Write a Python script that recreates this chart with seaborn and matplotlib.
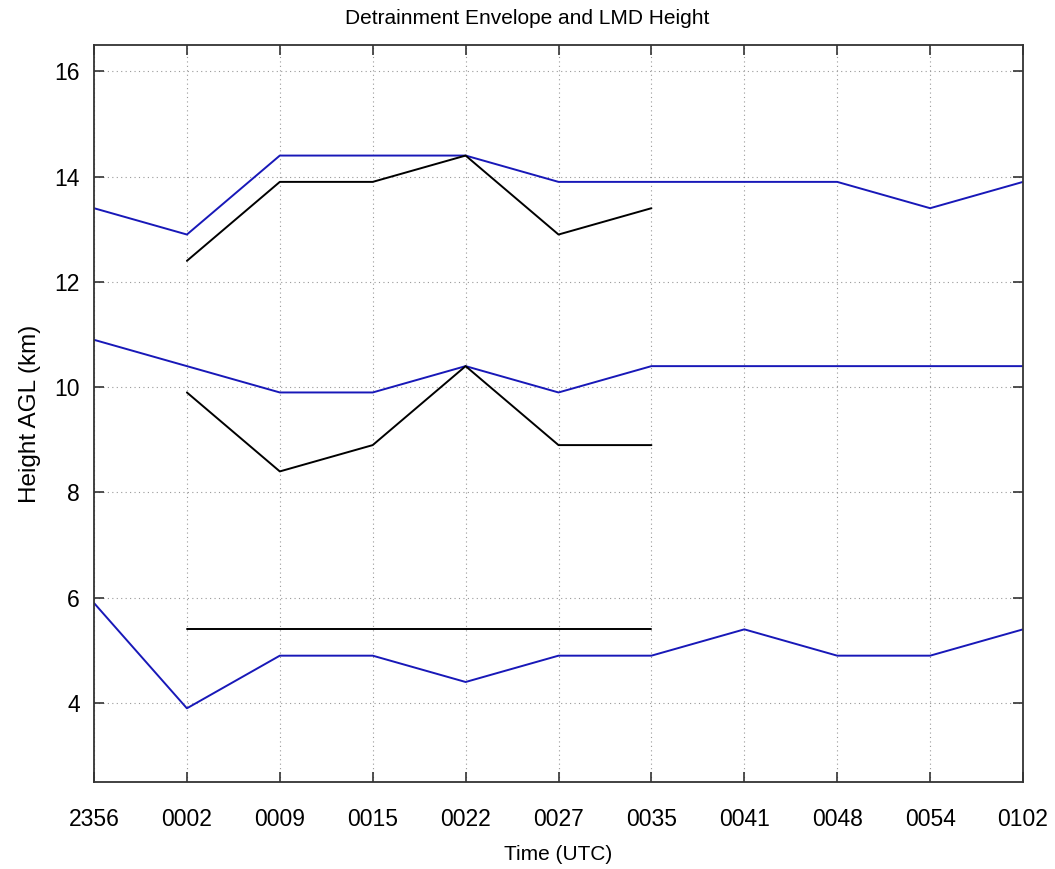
"""
Detrainment envelope and LMD height over time, gnuplot-like styling.
"""

import matplotlib
matplotlib.use("Agg")
import matplotlib.pyplot as plt
import numpy as np
import pandas as pd
import seaborn as sns

times = ["2356", "0002", "0009", "0015", "0022", "0027", "0035",
         "0041", "0048", "0054", "0102"]

# envelope (blue), full period
env_top = [13.4, 12.9, 14.4, 14.4, 14.4, 13.9, 13.9, 13.9, 13.9, 13.4, 13.9]
env_mid = [10.9, 10.4, 9.9, 9.9, 10.4, 9.9, 10.4, 10.4, 10.4, 10.4, 10.4]
env_bot = [5.9, 3.9, 4.9, 4.9, 4.4, 4.9, 4.9, 5.4, 4.9, 4.9, 5.4]

# LMD (black), 0002 - 0035 only
lmd_times = times[1:7]
lmd_top = [12.4, 13.9, 13.9, 14.4, 12.9, 13.4]
lmd_mid = [9.9, 8.4, 8.9, 10.4, 8.9, 8.9]
lmd_bot = [5.4, 5.4, 5.4, 5.4, 5.4, 5.4]

BLUE = "#1818b8"

sns.set_style("ticks")
plt.rcParams["font.family"] = ["Liberation Sans", "DejaVu Sans"]
plt.rcParams["text.color"] = "black"
plt.rcParams["axes.labelcolor"] = "black"

pos = {t: i for i, t in enumerate(times)}

fig = plt.figure(figsize=(10.55, 8.69), dpi=100)
ax = fig.add_axes([0.0891, 0.1001, 0.8806, 0.8481])

series = [
    (times, env_top, BLUE), (times, env_mid, BLUE), (times, env_bot, BLUE),
    (lmd_times, lmd_top, "black"), (lmd_times, lmd_mid, "black"),
    (lmd_times, lmd_bot, "black"),
]
for xs, ys, col in series:
    df = pd.DataFrame({"x": [pos[t] for t in xs], "y": ys})
    sns.lineplot(data=df, x="x", y="y", ax=ax, color=col, lw=1.4,
                 sort=False, estimator=None)

ax.set_xlim(0, len(times) - 1)
ax.set_ylim(2.5, 16.5)
ax.set_xticks(np.arange(len(times)))
ax.set_xticklabels(times)
ax.set_yticks([4, 6, 8, 10, 12, 14, 16])
ax.grid(True, color="#999999", linestyle=(0, (1, 3)), linewidth=0.8)
ax.tick_params(direction="in", length=7, width=1.2, labelsize=16.5,
               top=True, right=True, colors="#333333", labelcolor="black")
ax.tick_params(axis="x", pad=19)
ax.tick_params(axis="y", pad=10)
for s in ax.spines.values():
    s.set_linewidth(1.3)
    s.set_color("#333333")

fig.text(0.5, 1 - 18 / 869, "Detrainment Envelope and LMD Height",
         fontsize=15, ha="center", va="center")
ax.set_xlabel("Time (UTC)", fontsize=15, labelpad=10)
ax.set_ylabel("Height AGL (km)", fontsize=17.5, labelpad=10)

fig.savefig("out.png", dpi=100)
plt.close(fig)
